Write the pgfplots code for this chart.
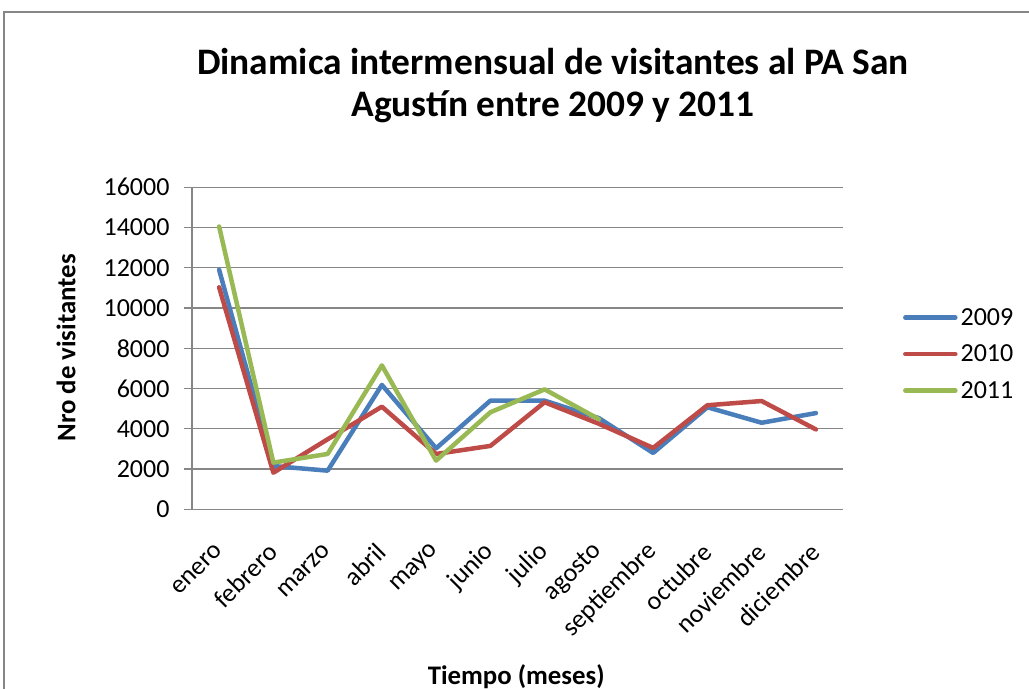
\documentclass[border=0pt]{standalone}
\usepackage{pgfplots}
\pgfplotsset{compat=1.18}
\usepackage{fontspec}
\setmainfont{Carlito}
\definecolor{c09}{HTML}{4A7EBB}
\definecolor{c10}{HTML}{BE4B48}
\definecolor{c11}{HTML}{98B954}
\definecolor{gridc}{HTML}{868686}
\begin{document}
\begin{tikzpicture}
\useasboundingbox (0,0) rectangle (1029bp,689bp);
\draw[gridc, line width=2bp] (4bp,-5bp) -- (4bp,677bp) -- (1035bp,677bp);
\begin{axis}[
  at={(192bp,179.7bp)}, anchor=south west,
  scale only axis, width=651bp, height=322bp,
  xmin=-0.5, xmax=11.5, ymin=0, ymax=16000,
  xtick={0,...,11},
  xticklabels={enero,febrero,marzo,abril,mayo,junio,julio,agosto,septiembre,octubre,noviembre,diciembre},
  ytick={0,2000,...,16000},
  scaled y ticks=false,
  /pgf/number format/assume math mode=true,
  /pgf/number format/1000 sep={},
  ymajorgrids, major grid style={gridc, line width=1.3bp},
  axis x line*=bottom, axis y line*=left,
  axis line style={gridc, line width=1.3bp, -},
  x axis line style={shorten <=-8bp},
  tick align=outside, major tick length=8bp,
  ytick style={gridc, line width=1.3bp},
  xtick style={draw=none},
  tick label style={font=\fontsize{26bp}{30bp}\selectfont, text=black},
  yticklabel style={xshift=-11bp},
  xticklabel style={xshift=2bp, yshift=-28bp, rotate=45, anchor=east},
  xlabel={Tiempo (meses)}, ylabel={Nro de visitantes},
  label style={font=\fontsize{26.8bp}{30bp}\selectfont\bfseries},
  xlabel style={at={(axis description cs:0.498,-0.521)}, anchor=center},
  ylabel style={at={(axis description cs:-0.1935,0.501)}, anchor=center},
  legend style={at={(axis description cs:1.092,0.482)}, anchor=west, draw=none, fill=none,
    font=\fontsize{26bp}{30bp}\selectfont, inner sep=0pt, row sep=12bp,
    nodes={inner sep=3bp}},
  legend cell align=left,
  legend image code/.code={\draw[#1, line width=4.5bp] (0bp,0bp) -- (50bp,0bp);},
  every axis plot/.append style={line width=4.5bp, line cap=round, line join=round},
  clip=false,
]
\addplot[c09] coordinates {(0,11900) (1,2150) (2,1920) (3,6180) (4,3030) (5,5400) (6,5400) (7,4530) (8,2800) (9,5070) (10,4300) (11,4780)};
\addplot[c10] coordinates {(0,11030) (1,1820) (2,3480) (3,5100) (4,2750) (5,3150) (6,5320) (7,4250) (8,3050) (9,5170) (10,5380) (11,3970)};
\addplot[c11] coordinates {(0,14050) (1,2320) (2,2750) (3,7150) (4,2420) (5,4820) (6,5960) (7,4480)};
\legend{2009,2010,2011}
\end{axis}
\node[align=center, font=\fontsize{37.4bp}{42bp}\selectfont\bfseries] at (553bp,603bp) {Dinamica intermensual de visitantes al PA San\\Agustín entre 2009 y 2011};
\end{tikzpicture}
\end{document}
